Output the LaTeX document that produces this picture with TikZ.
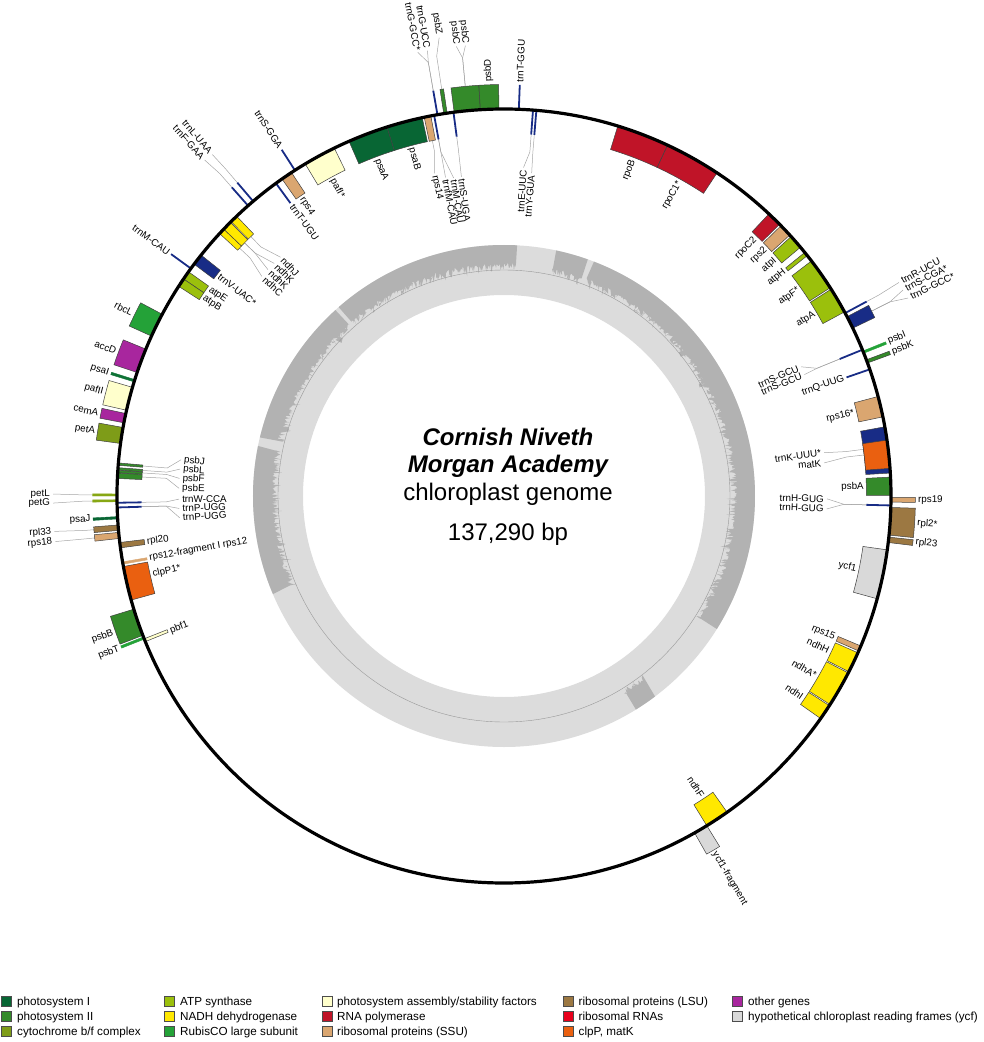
\documentclass[tikz,border=0pt]{standalone}
\usepackage{fontspec}
\setmainfont{Liberation Sans}
\definecolor{cPSI}{RGB}{8,102,52}
\definecolor{cPSII}{RGB}{52,138,42}
\definecolor{cCYT}{RGB}{126,156,24}
\definecolor{cATP}{RGB}{155,192,12}
\definecolor{cNDH}{RGB}{255,232,0}
\definecolor{cRBC}{RGB}{36,162,56}
\definecolor{cPAF}{RGB}{255,255,204}
\definecolor{cRPO}{RGB}{192,20,40}
\definecolor{cSSU}{RGB}{218,166,112}
\definecolor{cLSU}{RGB}{156,120,66}
\definecolor{cRRN}{RGB}{232,0,28}
\definecolor{cCLP}{RGB}{234,96,16}
\definecolor{cOTH}{RGB}{168,38,158}
\definecolor{cYCF}{RGB}{217,217,217}
\definecolor{cTRN}{RGB}{24,44,134}
\definecolor{gcring}{RGB}{220,220,220}
\definecolor{gcdark}{RGB}{178,178,178}
\tikzset{
  genebox/.style={draw=black!75, line width=0.5pt},
  trna/.style={draw=cTRN, line width=1.8pt},
  glabel/.style={font=\fontsize{9.8}{10}\selectfont, inner sep=0pt},
  leader/.style={draw=black!35, line width=0.5pt},
  legsq/.style={draw=black!70, line width=0.8pt, minimum size=10pt, inner sep=0pt, anchor=north west},
  legtxt/.style={font=\fontsize{11.7}{13}\selectfont, inner sep=0pt, anchor=base west},
  ctitle/.style={font=\fontsize{24}{28}\selectfont\bfseries\itshape, anchor=base, inner sep=0pt},
  csub/.style={font=\fontsize{24}{28}\selectfont, anchor=base, inner sep=0pt}
}
\newcounter{gn}
\newcommand\gbox[4]{%
  \ifx o#3\def\gRa{387}\def\gRb{411.5}\else\def\gRa{362.5}\def\gRb{387}\fi
  \pgfmathsetmacro\gTa{90-(#1)}\pgfmathsetmacro\gTb{90-(#2)}%
  \path[genebox,fill=#4] (\gTa:\gRa) arc[start angle=\gTa,end angle=\gTb,radius=\gRa] -- (\gTb:\gRb) arc[start angle=\gTb,end angle=\gTa,radius=\gRb] -- cycle;}
\newcommand\gthin[4]{%
  \ifx o#3\def\gRa{387}\def\gRb{411.5}\else\def\gRa{362.5}\def\gRb{387}\fi
  \pgfmathsetmacro\gTa{90-(#1)}\pgfmathsetmacro\gTb{90-(#2)}%
  \path[fill=#4,draw=#4,line width=0.4pt] (\gTa:\gRa) arc[start angle=\gTa,end angle=\gTb,radius=\gRa] -- (\gTb:\gRb) arc[start angle=\gTb,end angle=\gTa,radius=\gRb] -- cycle;}
\newcommand\gline[2]{%
  \ifx o#2\def\gRa{387}\def\gRb{411.5}\else\def\gRa{362.5}\def\gRb{387}\fi
  \pgfmathsetmacro\gTa{90-(#1)}%
  \draw[trna] (\gTa:\gRa) -- (\gTa:\gRb);}
\newcommand\glab[4]{%
  \pgfmathsetmacro\gTh{90-(#1)}%
  \pgfmathsetmacro\gSn{sin(#1)}%
  \ifdim\gSn pt<0pt
    \pgfmathsetmacro\gRot{\gTh+180}%
    \ifx o#3\def\gAnc{east}\else\def\gAnc{west}\fi
  \else
    \edef\gRot{\gTh}%
    \ifx o#3\def\gAnc{west}\else\def\gAnc{east}\fi
  \fi
  \stepcounter{gn}%
  \node[glabel,anchor=\gAnc,rotate=\gRot] (lab\arabic{gn}) at (\gTh:#2) {#4};}
\newcommand\glabR[4]{%
  \pgfmathsetmacro\gTh{90-(#1)}%
  \edef\gRot{\gTh}%
  \ifx o#3\def\gAnc{west}\else\def\gAnc{east}\fi
  \stepcounter{gn}%
  \node[glabel,anchor=\gAnc,rotate=\gRot] (lab\arabic{gn}) at (\gTh:#2) {#4};}
\newcommand\lead[5]{%
  \draw[leader] ({90-(#1)}:#2) -- ({90-(#1)}:#3) -- ({90-(#4)}:#5);}
\newcommand\gcseg[2]{%
  \pgfmathsetmacro\gTa{90-(#2)}\pgfmathsetmacro\gTb{90-(#1)}%
  \pgfmathtruncatemacro\gNs{round(((#2)-(#1))*6)+2}%
  \fill[gcdark] plot[domain=\gTa:\gTb,samples=\gNs,variable=\gAng] (\gAng:{231-11*rnd*rnd+3*rnd}) -- (\gTb:251) arc[start angle=\gTb,end angle=\gTa,radius=251] -- cycle;}
\begin{document}
\begin{tikzpicture}[x=1pt,y=1pt]
\useasboundingbox (-504,-546) rectangle (480,496);
\pgfmathsetseed{4242}
% GC ring
\fill[gcring,even odd rule] (0,0) circle (251) (0,0) circle (201);
\gcseg{-76.5}{-42.2}
\gcseg{-41.2}{3}
\gcseg{12}{19.5}
\gcseg{21}{122}
\gcseg{143}{148.3}
\gcseg{247}{281.5}
\draw[black!40,line width=0.4pt] (0,0) circle (226);
% leader lines
\lead{-9.9}{411.5}{440}{-11.0}{452}
\lead{-9.9}{411.5}{440}{-9.75}{452}
\lead{-8.7}{411.5}{445}{-8.05}{463}
\lead{-5.4}{411.5}{440}{-6.05}{452}
\lead{-5.4}{411.5}{440}{-4.9}{452}
\lead{-11.4}{362.5}{352}{-12.2}{330}
\lead{-10.4}{362.5}{350}{-10.4}{324}
\lead{-10.4}{362.5}{350}{-9.0}{322}
\lead{-7.5}{362.5}{350}{-7.6}{322}
\lead{4.3}{362.5}{345}{3.4}{329}
\lead{4.8}{362.5}{345}{4.9}{324}
\lead{-40.4}{411.5}{430}{-40.5}{449}
\lead{-41.4}{411.5}{430}{-41.7}{450}
\lead{-44.3}{362.5}{348}{-43.1}{327}
\lead{-45.7}{362.5}{348}{-44.65}{327}
\lead{-45.7}{362.5}{348}{-46.2}{327}
\lead{-46.85}{362.5}{348}{-47.8}{327}
\lead{-85.25}{362.5}{338}{-83.6}{325}
\lead{-85.95}{362.5}{338}{-85.25}{325}
\lead{-86.35}{362.5}{338}{-86.9}{325}
\lead{-87.0}{362.5}{338}{-88.65}{325}
\lead{-91.0}{362.5}{338}{-90.55}{325}
\lead{-91.7}{362.5}{338}{-92.2}{325}
\lead{-91.7}{362.5}{338}{-93.85}{325}
\lead{-89.85}{411.5}{420}{-89.75}{451}
\lead{-90.7}{411.5}{420}{-90.9}{451}
\lead{-94.7}{411.5}{420}{-94.5}{451}
\lead{-95.85}{411.5}{420}{-95.8}{451}
\lead{61.8}{411.5}{425}{61.6}{449}
\lead{63.3}{411.5}{432}{62.7}{449}
\lead{63.3}{411.5}{432}{63.9}{450}
\lead{67.8}{362.5}{338}{66.5}{324}
\lead{67.8}{362.5}{338}{68.0}{324}
\lead{82.6}{362.5}{345}{82.3}{323}
\lead{83.5}{362.5}{345}{84.1}{322}
\lead{91.4}{362.5}{340}{90.5}{323}
\lead{91.4}{362.5}{340}{92.3}{323}
% outer genes
\gbox{-7.4}{-3.5}{o}{cPSII}
\gbox{-3.5}{-0.75}{o}{cPSII}
\gbox{-8.95}{-8.45}{o}{cPSII}
\gline{-9.9}{o}
\gline{2.2}{o}
\gline{-32.7}{o}
\gline{-40.4}{o}
\gline{-41.4}{o}
\gline{-54.0}{o}
\gbox{-65.6}{-62.0}{o}{cRBC}
\gbox{-71.4}{-67.7}{o}{cOTH}
\gthin{-72.85}{-72.5}{o}{cPSI!80!cRBC}
\gbox{-77.2}{-73.7}{o}{cPAF}
\gbox{-79.1}{-77.7}{o}{cOTH}
\gbox{-82.2}{-79.8}{o}{cCYT}
\gthin{-90.0}{-89.7}{o}{cCYT!70!cATP}
\gthin{-90.85}{-90.55}{o}{cCYT!70!cATP}
\gthin{-93.4}{-93.05}{o}{cPSI}
\gbox{-95.1}{-94.3}{o}{cLSU}
\gbox{-96.3}{-95.4}{o}{cSSU}
\gbox{-111.1}{-107.0}{o}{cPSII}
\gthin{-111.7}{-111.35}{o}{cRBC}
\gline{61.8}{o}
\gbox{62.4}{64.3}{o}{cTRN}
\gthin{68.0}{68.35}{o}{cRBC}
\gbox{69.4}{69.9}{o}{cPSII}
\gbox{90.2}{90.9}{o}{cSSU}
\gbox{91.7}{95.8}{o}{cLSU}
\gbox{96.1}{96.9}{o}{cLSU}
\gbox{148.4}{150.5}{o}{cYCF}
% inner genes
\gbox{-23.6}{-17.6}{i}{cPSI}
\gbox{-17.6}{-12.2}{i}{cPSI}
\gbox{-11.9}{-10.9}{i}{cSSU}
\gline{-10.4}{i}
\gline{-7.5}{i}
\gline{4.3}{i}
\gline{4.8}{i}
\gbox{17.1}{25.0}{i}{cRPO}
\gbox{25.0}{33.4}{i}{cRPO}
\gbox{43.2}{45.4}{i}{cRPO}
\gbox{45.7}{47.6}{i}{cSSU}
\gbox{47.9}{50.0}{i}{cATP}
\gbox{51.0}{51.6}{i}{cATP}
\gbox{52.6}{57.45}{i}{cATP}
\gbox{57.7}{61.6}{i}{cATP}
\gline{67.8}{i}
\gline{70.9}{i}
\gbox{75.1}{78.2}{i}{cSSU}
\gbox{79.7}{86.6}{i}{cTRN}
\gbox{81.7}{85.9}{i}{cCLP}
\gbox{87.2}{89.9}{i}{cPSII}
\gline{91.4}{i}
\gbox{98.0}{105.4}{i}{cYCF}
\gbox{112.8}{113.6}{i}{cSSU}
\gbox{113.9}{117.0}{i}{cNDH}
\gbox{117.2}{122.6}{i}{cNDH}
\gbox{122.8}{125.1}{i}{cNDH}
\gbox{144.8}{148.4}{i}{cNDH}
\gbox{-112.1}{-111.65}{i}{cPAF}
\gbox{-105.6}{-100.5}{i}{cCLP}
\gthin{-100.15}{-99.8}{i}{cSSU}
\gbox{-97.7}{-96.9}{i}{cLSU}
\gline{-91.0}{i}
\gline{-91.7}{i}
\gbox{-85.45}{-85.1}{i}{cPSII}
\gbox{-86.15}{-85.8}{i}{cPSII}
\gbox{-86.55}{-86.2}{i}{cPSII}
\gbox{-87.4}{-86.6}{i}{cPSII}
\gbox{-55.9}{-54.6}{i}{cATP}
\gbox{-57.2}{-55.9}{i}{cATP}
\gbox{-53.2}{-51.5}{i}{cTRN}
\gbox{-47.3}{-46.4}{i}{cNDH}
\gbox{-46.4}{-45.0}{i}{cNDH}
\gbox{-44.85}{-43.7}{i}{cNDH}
\gline{-36.1}{i}
\gbox{-35.0}{-33.3}{i}{cSSU}
\gbox{-30.9}{-26.0}{i}{cPAF}
% genome circle
\draw[line width=3.2pt] (0,0) circle (387);
% outer direct labels
\glabR{-2.1}{414}{o}{psbD}
\glab{2.2}{414}{o}{trnT-GGU}
\glab{-32.7}{414}{o}{trnS-GGA}
\glab{-54.0}{414}{o}{trnM-CAU}
\glab{-63.8}{414}{o}{rbcL}
\glab{-69.55}{414}{o}{accD}
\glab{-72.7}{414}{o}{psaI}
\glab{-75.45}{414}{o}{pafII}
\glab{-78.4}{414}{o}{cemA}
\glab{-81.0}{414}{o}{petA}
\glab{-93.2}{414}{o}{psaJ}
\glab{-109.3}{414}{o}{psbB}
\glab{-111.6}{414}{o}{psbT}
\glab{68.1}{414}{o}{psbI}
\glab{69.6}{414}{o}{psbK}
\glab{90.55}{414}{o}{rps19}
\glab{93.8}{414}{o}{rpl2*}
\glab{96.4}{414}{o}{rpl23}
\glab{149.45}{414}{o}{ycf1-fragment}
% outer leader labels
\glab{-11.0}{454}{o}{trnG-GCC*}
\glab{-9.75}{454}{o}{trnG-UCC}
\glab{-8.05}{466}{o}{psbZ}
\glab{-6.05}{454}{o}{psbC}
\glab{-4.9}{454}{o}{psbC}
\glab{-40.5}{452}{o}{trnL-UAA}
\glab{-41.7}{453}{o}{trnF-GAA}
\glab{-89.75}{454}{o}{petL}
\glab{-90.9}{454}{o}{petG}
\glab{-94.5}{454}{o}{rpl33}
\glab{-95.8}{454}{o}{rps18}
\glab{61.6}{452}{o}{trnR-UCU}
\glab{62.7}{452}{o}{trnS-CGA*}
\glab{63.9}{453}{o}{trnG-GCC*}
% inner direct labels
\glab{-20.6}{360}{i}{psaA}
\glab{-14.9}{360}{i}{psaB}
\glab{-34.2}{360}{i}{rps4}
\glab{-36.1}{360}{i}{trnT-UGU}
\glab{-28.45}{360}{i}{pafI*}
\glab{-52.35}{360}{i}{trnV-UAC*}
\glab{-54.9}{360}{i}{atpE}
\glab{-56.6}{360}{i}{atpB}
\glab{-97.3}{360}{i}{rpl20}
\glab{-99.9}{360}{i}{rps12-fragment I rps12}
\glab{-102.6}{360}{i}{clpP1*}
\glab{-112.0}{360}{i}{pbf1}
\glab{21.0}{360}{i}{rpoB}
\glab{29.2}{360}{i}{rpoC1*}
\glab{44.3}{360}{i}{rpoC2}
\glab{46.65}{360}{i}{rps2}
\glab{48.95}{360}{i}{atpI}
\glab{51.3}{360}{i}{atpH}
\glab{55.0}{360}{i}{atpF*}
\glab{59.65}{360}{i}{atpA}
\glab{70.9}{360}{i}{trnQ-UUG}
\glab{76.65}{360}{i}{rps16*}
\glab{88.55}{360}{i}{psbA}
\glab{101.7}{360}{i}{ycf1}
\glab{113.2}{360}{i}{rps15}
\glab{115.45}{360}{i}{ndhH}
\glab{119.9}{360}{i}{ndhA*}
\glab{123.95}{360}{i}{ndhI}
\glab{146.6}{360}{i}{ndhF}
% inner leader labels
\glab{-12.2}{328}{i}{rps14}
\glab{-10.4}{322}{i}{trnfM-CAU}
\glab{-9.0}{320}{i}{trnM-CAU}
\glab{-7.6}{320}{i}{trnS-UGA}
\glab{3.4}{327}{i}{trnE-UUC}
\glab{4.9}{322}{i}{trnY-GUA}
\glab{-43.1}{324}{i}{ndhJ}
\glab{-44.65}{324}{i}{ndhK}
\glab{-46.2}{324}{i}{ndhK}
\glab{-47.8}{324}{i}{ndhC}
\glab{-83.6}{322}{i}{psbJ}
\glab{-85.25}{322}{i}{psbL}
\glab{-86.9}{322}{i}{psbF}
\glab{-88.65}{322}{i}{psbE}
\glab{-90.55}{322}{i}{trnW-CCA}
\glab{-92.2}{322}{i}{trnP-UGG}
\glab{-93.85}{322}{i}{trnP-UGG}
\glab{66.5}{321}{i}{trnS-GCU}
\glab{68.0}{321}{i}{trnS-GCU}
\glab{82.3}{320}{i}{trnK-UUU*}
\glab{84.1}{319}{i}{matK}
\glab{90.5}{320}{i}{trnH-GUG}
\glab{92.3}{320}{i}{trnH-GUG}
% centre text
\node[ctitle] (t1) at (4,51) {Cornish Niveth};
\node[ctitle] (t2) at (4,23.5) {Morgan Academy};
\node[csub] (t3) at (4,-4) {chloroplast genome};
\node[csub] (t4) at (4,-44) {137,290 bp};
% legend
\node[legsq,fill=cPSI] (s1) at (-502.5,-500) {};
\node[legtxt] (x1) at (-487,-509.6) {photosystem I};
\node[legsq,fill=cPSII] (s2) at (-502.5,-514.8) {};
\node[legtxt] (x2) at (-487,-524.4) {photosystem II};
\node[legsq,fill=cCYT] (s3) at (-502.5,-529.6) {};
\node[legtxt] (x3) at (-487,-539.2) {cytochrome b/f complex};
\node[legsq,fill=cATP] (s4) at (-339.5,-500) {};
\node[legtxt] (x4) at (-324,-509.6) {ATP synthase};
\node[legsq,fill=cNDH] (s5) at (-339.5,-514.8) {};
\node[legtxt] (x5) at (-324,-524.4) {NADH dehydrogenase};
\node[legsq,fill=cRBC] (s6) at (-339.5,-529.6) {};
\node[legtxt] (x6) at (-324,-539.2) {RubisCO large subunit};
\node[legsq,fill=cPAF] (s7) at (-182,-500) {};
\node[legtxt] (x7) at (-167,-509.6) {photosystem assembly/stability factors};
\node[legsq,fill=cRPO] (s8) at (-182,-514.8) {};
\node[legtxt] (x8) at (-167,-524.4) {RNA polymerase};
\node[legsq,fill=cSSU] (s9) at (-182,-529.6) {};
\node[legtxt] (x9) at (-167,-539.2) {ribosomal proteins (SSU)};
\node[legsq,fill=cLSU] (s10) at (59,-500) {};
\node[legtxt] (x10) at (74.5,-509.6) {ribosomal proteins (LSU)};
\node[legsq,fill=cRRN] (s11) at (59,-514.8) {};
\node[legtxt] (x11) at (74.5,-524.4) {ribosomal RNAs};
\node[legsq,fill=cCLP] (s12) at (59,-529.6) {};
\node[legtxt] (x12) at (74.5,-539.2) {clpP, matK};
\node[legsq,fill=cOTH] (s13) at (228,-500) {};
\node[legtxt] (x13) at (244,-509.6) {other genes};
\node[legsq,fill=cYCF] (s14) at (228,-514.8) {};
\node[legtxt] (x14) at (244,-524.4) {hypothetical chloroplast reading frames (ycf)};
\end{tikzpicture}
\end{document}
